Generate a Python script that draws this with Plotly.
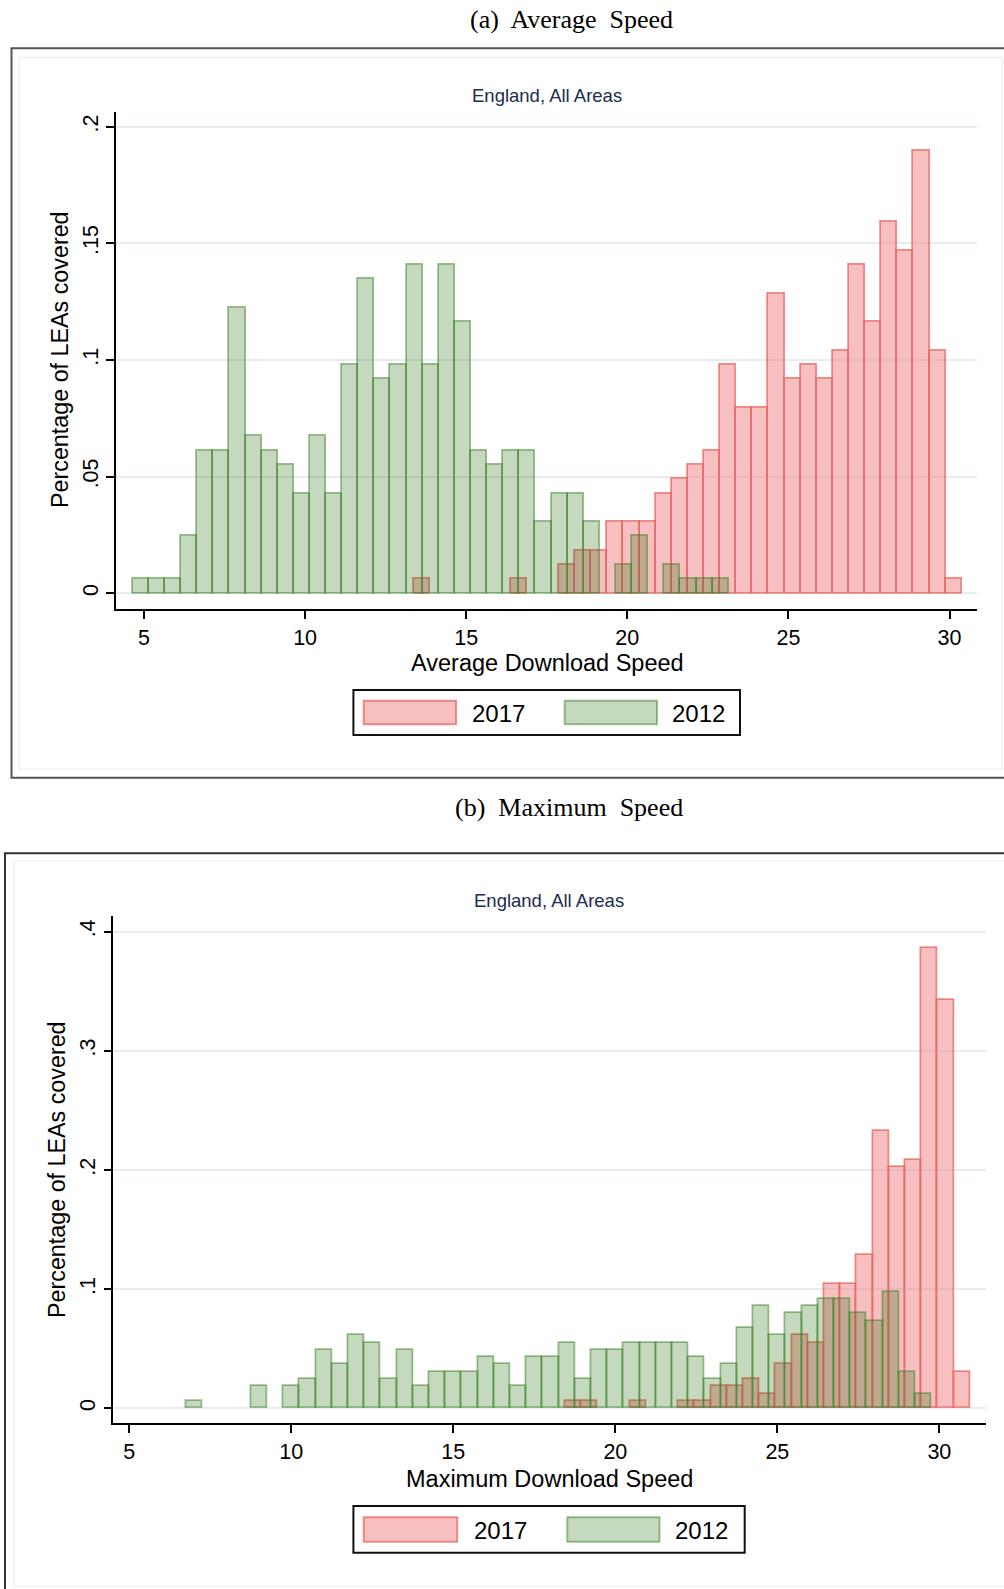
import plotly.graph_objects as go

# ---------------- data ----------------
BIN_WIDTH = 0.5

# (a) Average download speed: density per 0.5-wide bin
avg_2012_start = 4.65
avg_2012 = [0.0061, 0.0061, 0.0061, 0.0245, 0.0613, 0.0613, 0.1225, 0.0674, 0.0613, 0.0551,
            0.0429, 0.0674, 0.0429, 0.0980, 0.1348, 0.0919, 0.0980, 0.1409, 0.0980, 0.1409,
            0.1164, 0.0613, 0.0551, 0.0613, 0.0613, 0.0306, 0.0429, 0.0429, 0.0306, 0.0,
            0.0123, 0.0245, 0.0, 0.0123, 0.0061, 0.0061, 0.0061]
avg_2017_start = 13.38
avg_2017 = [0.0061, 0.0, 0.0, 0.0, 0.0, 0.0, 0.0061, 0.0, 0.0, 0.0123,
            0.0184, 0.0184, 0.0306, 0.0306, 0.0306, 0.0429, 0.0490, 0.0551, 0.0613, 0.0980,
            0.0796, 0.0796, 0.1286, 0.0919, 0.0980, 0.0919, 0.1041, 0.1409, 0.1164, 0.1593,
            0.1470, 0.1899, 0.1041, 0.0061]

# (b) Maximum download speed
max_2012_start = 6.76
max_2012 = [0.0061, 0.0, 0.0, 0.0, 0.0184, 0.0, 0.0184, 0.0245, 0.0490, 0.0368,
            0.0613, 0.0551, 0.0245, 0.0490, 0.0184, 0.0306, 0.0306, 0.0306, 0.0429, 0.0368,
            0.0184, 0.0429, 0.0429, 0.0551, 0.0245, 0.0490, 0.0490, 0.0551, 0.0551, 0.0551,
            0.0551, 0.0429, 0.0245, 0.0368, 0.0674, 0.0858, 0.0613, 0.0796, 0.0858, 0.0919,
            0.0919, 0.0796, 0.0735, 0.0980, 0.0306, 0.0123]
max_2017_start = 18.45
max_2017 = [0.0061, 0.0061, 0.0, 0.0, 0.0061, 0.0, 0.0, 0.0061, 0.0061, 0.0184,
            0.0184, 0.0245, 0.0123, 0.0368, 0.0613, 0.0551, 0.1041, 0.1041, 0.1286, 0.2328,
            0.2021, 0.2083, 0.3859, 0.3430, 0.0306]

x_ticks = [5, 10, 15, 20, 25, 30]
y_ticks_a = [0, 0.05, 0.1, 0.15, 0.2]
y_text_a = ["0", ".05", ".1", ".15", ".2"]
y_ticks_b = [0, 0.1, 0.2, 0.3, 0.4]
y_text_b = ["0", ".1", ".2", ".3", ".4"]
series_names = ["2017", "2012"]

# ---------------- styling ----------------
W, H = 1004, 1589
def px(x): return x / W
def py(y): return 1 - y / H

SANS = "Liberation Sans, Arial, sans-serif"
SERIF = "Liberation Serif, Times New Roman, serif"
RED_FILL = "rgba(239,127,127,0.5)"     # -> (247,191,191) on white
RED_LINE = "rgba(232,100,95,0.72)"
GRN_FILL = "rgba(23,103,0,0.25)"       # -> (197,217,191) on white, brown over red
GRN_LINE = "rgba(60,128,40,0.5)"
GRID = "#e5edf0"


def bars(start, vals, fill, line, xa, ya, name):
    xs, ys = [], []
    for i, v in enumerate(vals):
        if v > 0:
            xs.append(start + BIN_WIDTH * (i + 0.5))
            ys.append(v)
    return go.Bar(x=xs, y=ys, width=BIN_WIDTH, name=name, xaxis=xa, yaxis=ya,
                  marker=dict(color=fill, line=dict(color=line, width=1.8)),
                  showlegend=False, hoverinfo="x+y")


fig = go.Figure()
fig.add_trace(bars(avg_2017_start, avg_2017, RED_FILL, RED_LINE, "x", "y", series_names[0]))
fig.add_trace(bars(avg_2012_start, avg_2012, GRN_FILL, GRN_LINE, "x", "y", series_names[1]))
fig.add_trace(bars(max_2017_start, max_2017, RED_FILL, RED_LINE, "x2", "y2", series_names[0]))
fig.add_trace(bars(max_2012_start, max_2012, GRN_FILL, GRN_LINE, "x2", "y2", series_names[1]))

tickfont = dict(family=SANS, size=21.5, color="black")

def xaxis(domain, rng, anchor):
    return dict(domain=domain, range=rng, anchor=anchor, tickvals=x_ticks,
                showline=True, linecolor="black", linewidth=1.5,
                ticks="outside", ticklen=8, tickwidth=1.5, tickcolor="black",
                showgrid=False, zeroline=False, tickfont=tickfont, fixedrange=True)

def yaxis(domain, rng, anchor, vals, text):
    return dict(domain=domain, range=rng, anchor=anchor, tickvals=vals, ticktext=text,
                tickangle=-90, showline=True, linecolor="black", linewidth=1.5,
                ticks="outside", ticklen=8, tickwidth=1.5, tickcolor="black",
                showgrid=True, gridcolor=GRID, gridwidth=1.5, zeroline=False,
                tickfont=tickfont, fixedrange=True)

shapes = []
annotations = []

def rect(x0, y0, x1, y1, color, width, fill=None):
    shapes.append(dict(type="rect", xref="paper", yref="paper",
                       x0=px(x0), x1=px(x1), y0=py(y0), y1=py(y1),
                       line=dict(color=color, width=width),
                       fillcolor=fill if fill else "rgba(0,0,0,0)",
                       layer="below" if fill is None else "above"))

def text(x, y, s, size, family=SANS, color="black", angle=0, xanchor="center"):
    annotations.append(dict(xref="paper", yref="paper", x=px(x), y=py(y), text=s,
                            showarrow=False, xanchor=xanchor, yanchor="middle",
                            textangle=angle, font=dict(family=family, size=size, color=color)))

# ---- panel frames ----
rect(11.5, 48.3, 1012, 777.7, "#555555", 2)
rect(19, 57.3, 1002, 769, "#eeeeee", 1.2)
rect(5, 853.3, 1012, 1596, "#333333", 2)
rect(14, 861, 1010, 1586.5, "#eeeeee", 1.2)

# ---- titles ----
text(571, 20, "(a)\u00a0 Average\u00a0 Speed", 26, SERIF)
text(568.6, 807, "(b)\u00a0 Maximum\u00a0 Speed", 26, SERIF)
text(547, 96, "England, All Areas", 18.5, SANS, "#1c2b50")
text(549, 900, "England, All Areas", 18.5, SANS, "#1c2b50")

# ---- axis titles ----
text(547, 663.3, "Average Download Speed", 23.5)
text(549, 1479, "Maximum Download Speed", 23.5)
text(60, 360, "Percentage of LEAs covered", 23.3, angle=-90)
text(57, 1170, "Percentage of LEAs covered", 23.3, angle=-90)

# ---- legends ----
def legend(box, red_sw, grn_sw, t1x, t2x, cy):
    rect(*box, "#111111", 2)
    rect(*red_sw, RED_LINE, 2, RED_FILL)
    rect(*grn_sw, GRN_LINE, 2, GRN_FILL)
    text(t1x, cy, series_names[0], 24, xanchor="left")
    text(t2x, cy, series_names[1], 24, xanchor="left")

legend((353.4, 690, 740, 735), (363.7, 700.7, 456, 724.3), (564.7, 700.7, 657, 724.3),
       469.5, 670, 713)
legend((353.4, 1506, 744.7, 1552.7), (363.7, 1517.3, 457.2, 1541.7), (567.3, 1517.3, 659.5, 1541.7),
       471.5, 672.5, 1530)

fig.update_layout(
    width=W, height=H, margin=dict(l=0, r=0, t=0, b=0),
    paper_bgcolor="white", plot_bgcolor="white",
    barmode="overlay", bargap=0, showlegend=False,
    xaxis=xaxis([px(116), px(976.6)], [4.131, 30.84], "y"),
    yaxis=yaxis([py(609), py(111.7)], [-0.00673, 0.2064], "x", y_ticks_a, y_text_a),
    xaxis2=xaxis([px(113.3), px(986)], [4.506, 31.44], "y2"),
    yaxis2=yaxis([py(1423.3), py(916)], [-0.01259, 0.4131], "x2", y_ticks_b, y_text_b),
    shapes=shapes, annotations=annotations,
)

fig.write_html("out.html", config={"displayModeBar": False},
               post_script="document.body.style.margin='0px';document.body.style.overflow='hidden';")
